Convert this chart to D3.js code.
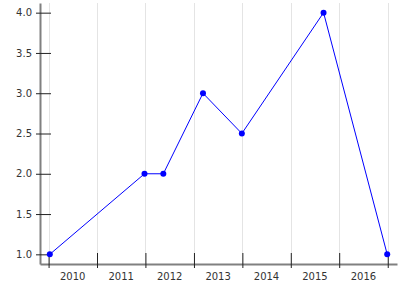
<!DOCTYPE html>
<meta charset="utf-8">
<style>
body { margin: 0; background: #fff; }
svg text { font-family: "DejaVu Sans", sans-serif; font-size: 10px; fill: #333; }
.grid line { stroke: #e4e4e4; stroke-width: 1; }
.axis path.domain { stroke: #808080; stroke-width: 2; }
.axis .tick line { stroke: #222; stroke-width: 1; }
</style>
<svg width="400" height="300"></svg>
<script src="https://cdn.jsdelivr.net/npm/d3@7"></script>
<script>

// data
var dates = ["2010-01-10", "2011-12-25", "2012-05-15", "2013-03-10", "2013-12-28", "2015-09-05", "2016-12-28"];
var values = [1.0, 2.0, 2.0, 3.0, 2.5, 4.0, 1.0];
var yTicks = [1.0, 1.5, 2.0, 2.5, 3.0, 3.5, 4.0];
var yearLabels = [2010, 2011, 2012, 2013, 2014, 2015, 2016];

var parse = d3.timeParse("%Y-%m-%d");
var points = dates.map(function(d, i) { return { date: parse(d), value: values[i] }; });

var svg = d3.select("svg");
// note: "top" is a reserved window global, so plot edges get their own names
var plotL = 40, plotR = 397, plotT = 3, plotB = 264;

var ext = d3.extent(points, function(d) { return d.date; });
var pad = (ext[1] - ext[0]) * 0.029;
var x = d3.scaleTime()
    .domain([new Date(+ext[0] - pad), new Date(+ext[1] + pad)])
    .range([plotL, plotR]);

var y = d3.scaleLinear()
    .domain([0.88, 4.12])
    .range([plotB, plotT]);

var yearStarts = yearLabels.map(function(yr) { return new Date(yr, 0, 1); });
yearStarts.push(new Date(yearLabels[yearLabels.length - 1] + 1, 0, 1));

// vertical grid at year boundaries
svg.append("g").attr("class", "grid")
  .selectAll("line").data(yearStarts).enter().append("line")
    .attr("x1", function(d) { return Math.round(x(d)) + 0.5; })
    .attr("x2", function(d) { return Math.round(x(d)) + 0.5; })
    .attr("y1", plotT)
    .attr("y2", plotB);

// x axis, labels go between the ticks
var xAxis = svg.append("g").attr("class", "axis")
    .attr("transform", "translate(0," + plotB + ")")
    .call(d3.axisBottom(x).tickValues(yearStarts).tickFormat("").tickSizeOuter(0));
xAxis.selectAll(".tick line").attr("y1", -11).attr("y2", 4);

svg.append("g").selectAll("text").data(yearLabels).enter().append("text")
    .attr("x", function(d) { return x(new Date(d, 6, 2)); })
    .attr("y", plotB + 16)
    .attr("text-anchor", "middle")
    .text(function(d) { return d; });

// y axis
var yAxis = svg.append("g").attr("class", "axis")
    .attr("transform", "translate(" + plotL + ",0)")
    .call(d3.axisLeft(y).tickValues(yTicks).tickFormat(d3.format(".1f")).tickSizeOuter(0));
yAxis.selectAll(".tick line").attr("x1", 11).attr("x2", -4);
yAxis.selectAll(".tick text").attr("x", -8).style("font-size", "10px").style("font-family", "DejaVu Sans").attr("fill", "#333");

// line + dots
var line = d3.line()
    .x(function(d) { return x(d.date); })
    .y(function(d) { return y(d.value); });

svg.append("path").datum(points)
    .attr("d", line)
    .attr("fill", "none")
    .attr("stroke", "#0000ff")
    .attr("stroke-width", 1);

svg.append("g").selectAll("circle").data(points).enter().append("circle")
    .attr("cx", function(d) { return x(d.date); })
    .attr("cy", function(d) { return y(d.value); })
    .attr("r", 3)
    .attr("fill", "#0000ff");

</script>
